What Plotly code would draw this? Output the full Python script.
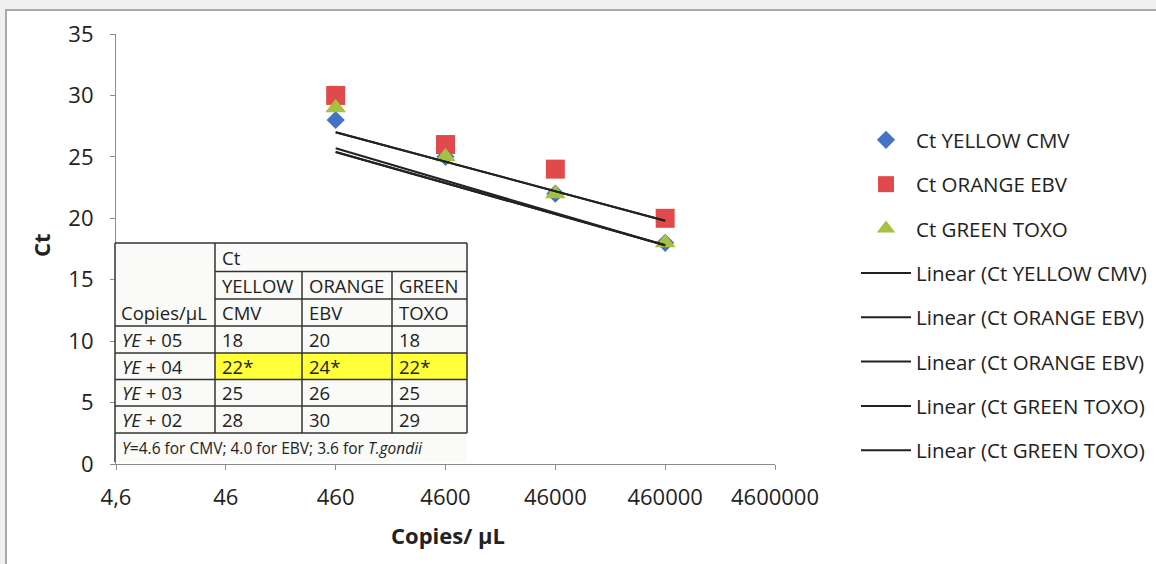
import plotly.graph_objects as go

# ---------------- data ----------------
copies = [460, 4600, 46000, 460000]
ct_cmv = [28, 25, 22, 18]
ct_ebv = [30, 26, 24, 20]
ct_toxo = [29, 25, 22, 18]

trend_x = [460, 460000]
trend_cmv = [25.4, 17.8]
trend_ebv = [27.0, 19.8]
trend_toxo = [25.7, 17.8]

x_tickvals = [4.6, 46, 460, 4600, 46000, 460000, 4600000]
x_ticktext = ["4,6", "46", "460", "4600", "46000", "460000", "4600000"]
y_tickvals = [0, 5, 10, 15, 20, 25, 30, 35]

# table content
tbl_rows = ["<i>YE</i> + 05", "<i>YE</i> + 04", "<i>YE</i> + 03", "<i>YE</i> + 02"]
tbl_cmv = ["18", "22*", "25", "28"]
tbl_ebv = ["20", "24*", "26", "30"]
tbl_toxo = ["18", "22*", "25", "29"]
tbl_head1 = ["YELLOW", "ORANGE", "GREEN"]
tbl_head2 = ["CMV", "EBV", "TOXO"]
tbl_note = "<i>Y</i>=4.6 for CMV; 4.0 for EBV; 3.6 for <i>T.gondii</i>"

# ---------------- layout geometry ----------------
W, H = 1156, 564
L, R, T, B = 116, 381, 34, 100
PW, PH = W - L - R, H - T - B
FONT = "Open Sans"
TXT = "#222222"


def fx(px):
    return (px - L) / PW


def fy(py):
    return (H - B - py) / PH


fig = go.Figure()

fig.add_trace(go.Scatter(x=copies, y=ct_cmv, mode="markers", name="Ct YELLOW CMV",
                         legendgroup="a",
                         marker=dict(symbol="diamond", size=14, color="#4472C4")))
fig.add_trace(go.Scatter(x=copies, y=ct_ebv, mode="markers", name="Ct ORANGE EBV",
                         legendgroup="b",
                         marker=dict(symbol="square", size=19, color="#E04A4C")))
fig.add_trace(go.Scatter(x=copies, y=ct_toxo, mode="markers", name="Ct GREEN TOXO",
                         legendgroup="c",
                         marker=dict(symbol="triangle-up", size=18, color="#A6C03F")))

line_style = dict(color="#222222", width=2)
for nm, yy, g in [("Linear (Ct YELLOW CMV)", trend_cmv, "d"),
                  ("Linear (Ct ORANGE EBV)", trend_ebv, "e"),
                  ("Linear (Ct ORANGE EBV)", trend_ebv, "f"),
                  ("Linear (Ct GREEN TOXO)", trend_toxo, "g"),
                  ("Linear (Ct GREEN TOXO)", trend_cmv, "h")]:
    fig.add_trace(go.Scatter(x=trend_x, y=yy, mode="lines", name=nm, legendgroup=g,
                             line=line_style))

shapes = []
# outer gray frame + white panel
shapes.append(dict(type="rect", xref="paper", yref="paper", x0=fx(6), x1=fx(1160),
                   y0=fy(10), y1=fy(570), fillcolor="white",
                   line=dict(color="#a8a8a8", width=2), layer="below"))

# table background
shapes.append(dict(type="rect", xref="paper", yref="paper", x0=fx(115), x1=fx(467),
                   y0=fy(243), y1=fy(462), fillcolor="#fafaf8", line=dict(width=0),
                   layer="above"))
# yellow highlight
shapes.append(dict(type="rect", xref="paper", yref="paper", x0=fx(215), x1=fx(467),
                   y0=fy(353), y1=fy(379.5), fillcolor="#FFFF3A", line=dict(width=0),
                   layer="above"))

bc = dict(color="#333333", width=1.5)


def hline(y, x0, x1):
    shapes.append(dict(type="line", xref="paper", yref="paper", x0=fx(x0), x1=fx(x1),
                       y0=fy(y), y1=fy(y), line=bc, layer="above"))


def vline(x, y0, y1):
    shapes.append(dict(type="line", xref="paper", yref="paper", x0=fx(x), x1=fx(x),
                       y0=fy(y0), y1=fy(y1), line=bc, layer="above"))


cols = [115, 215, 302, 392, 467]
rows = [243, 326, 353, 379.5, 406, 433]
hline(243, 115, 467)
hline(271.5, 215, 467)
hline(299, 215, 467)
for r in rows[1:]:
    hline(r, 115, 467)
vline(115, 243, 462)
vline(215, 243, 433)
vline(467, 243, 433)
vline(302, 271.5, 433)
vline(392, 271.5, 433)

anns = []


def txt(px, py, s, size=18.5, xanchor="left"):
    anns.append(dict(xref="paper", yref="paper", x=fx(px), y=fy(py), text=s,
                     showarrow=False, xanchor=xanchor, yanchor="middle",
                     font=dict(family=FONT, size=size, color=TXT)))


txt(220, 257.5, "Ct")
for i, s in enumerate(tbl_head1):
    txt(cols[i + 1] + 5, 285.5, s)
for i, s in enumerate(tbl_head2):
    txt(cols[i + 1] + 5, 312.5, s)
txt(119, 312.5, "Copies/μL")
for i in range(4):
    cy = (rows[i + 1] + rows[i + 2]) / 2
    txt(120, cy, tbl_rows[i])
    txt(cols[1] + 5, cy, tbl_cmv[i])
    txt(cols[2] + 5, cy, tbl_ebv[i])
    txt(cols[3] + 5, cy, tbl_toxo[i])
txt(120, 448, tbl_note, size=15.5)

# axis titles
anns.append(dict(xref="paper", yref="paper", x=fx(41), y=fy(245), text="<b>Ct</b>",
                 showarrow=False, textangle=-90, xanchor="center", yanchor="middle",
                 font=dict(family=FONT, size=22, color=TXT)))
anns.append(dict(xref="paper", yref="paper", x=fx(448), y=fy(535), text="<b>Copies/ μL</b>",
                 showarrow=False, xanchor="center", yanchor="middle",
                 font=dict(family=FONT, size=22, color=TXT)))

axis_common = dict(showgrid=False, zeroline=False, showline=True, linecolor="#8c8c8c",
                   linewidth=1.2, ticks="outside", ticklen=5, tickcolor="#8c8c8c",
                   tickfont=dict(family=FONT, size=22, color=TXT))

fig.update_layout(
    width=W, height=H, autosize=False,
    margin=dict(l=L, r=R, t=T, b=B, autoexpand=False),
    paper_bgcolor="#f0f0f0", plot_bgcolor="white",
    font=dict(family=FONT, color=TXT),
    xaxis=dict(type="log", range=[0.66276, 6.66276], tickvals=x_tickvals,
               ticktext=x_ticktext, ticklabelstandoff=8, **axis_common),
    yaxis=dict(range=[0, 35], tickvals=y_tickvals, ticklabelstandoff=12, **axis_common),
    shapes=shapes, annotations=anns,
    showlegend=True,
    legend=dict(x=fx(856), xanchor="left", y=fy(120), yanchor="top",
                bgcolor="rgba(0,0,0,0)", font=dict(family=FONT, size=20.5, color=TXT),
                tracegroupgap=14.7, itemwidth=50, traceorder="grouped"),
)

fig.write_html(
    "out.html",
    config={"responsive": False, "displayModeBar": False},
    post_script="document.body.style.margin='0';document.body.style.overflow='hidden';",
)
